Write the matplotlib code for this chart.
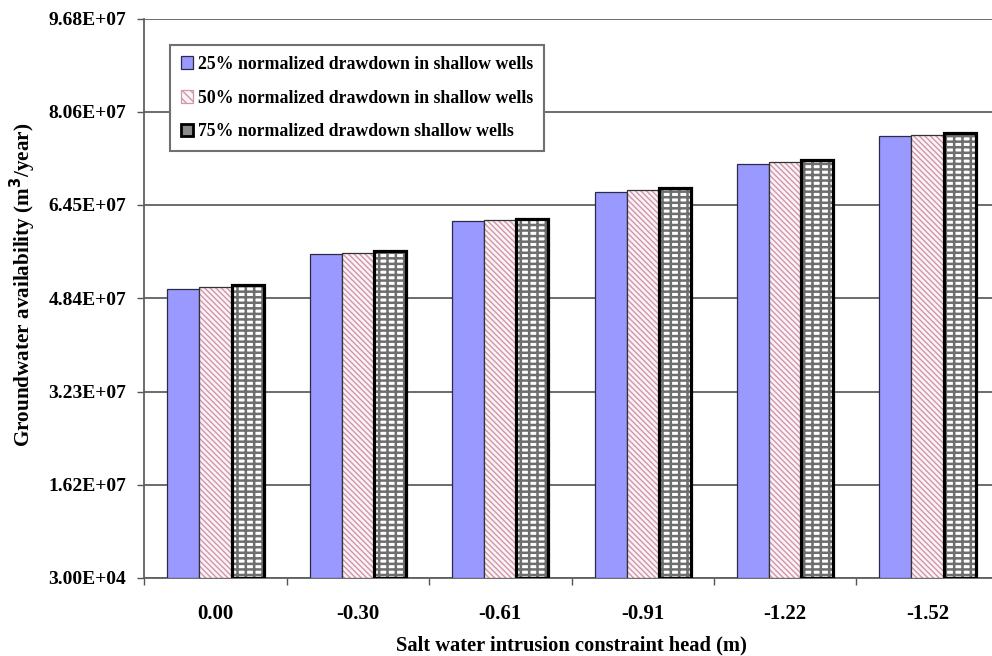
import numpy as np
import matplotlib.pyplot as plt
from matplotlib.patches import Patch

# Chart data
Categories = ["0.00", "-0.30", "-0.61", "-0.91", "-1.22", "-1.52"]
Series_labels = ["25% normalized drawdown in shallow wells",
                 "50% normalized drawdown in shallow wells",
                 "75% normalized drawdown shallow wells"]
DD25 = [5.00e7, 5.61e7, 6.17e7, 6.68e7, 7.17e7, 7.64e7]
DD50 = [5.04e7, 5.62e7, 6.19e7, 6.71e7, 7.20e7, 7.66e7]
DD75 = [5.07e7, 5.66e7, 6.22e7, 6.74e7, 7.23e7, 7.70e7]
Ytick_labels = ["3.00E+04", "1.62E+07", "3.23E+07", "4.84E+07",
                "6.45E+07", "8.06E+07", "9.68E+07"]
Ymin, Ymax = 3.0e4, 9.68e7

plt.rcParams["font.family"] = ["Liberation Serif", "DejaVu Serif"]
plt.rcParams["font.weight"] = "bold"
plt.rcParams["hatch.linewidth"] = 1.0

fig = plt.figure(figsize=(9.92, 6.56), dpi=100)
ax = fig.add_axes([144.3 / 992, 78 / 656, 854.4 / 992, 559.5 / 656])

x = np.arange(len(Categories))
w = 0.225

# 25% bars
ax.bar(x - w, DD25, w, color="#9999FF", edgecolor="#2b2b45", linewidth=0.9, zorder=3)
# 50% bars (hatch then outline)
ax.bar(x, DD50, w, color="#FBF3F6", edgecolor="#D096AD", hatch="\\\\\\\\\\\\", linewidth=0, zorder=3)
ax.bar(x, DD50, w, fill=False, edgecolor="#333333", linewidth=0.9, zorder=4)
# 75% bars (brick-like pattern then thick outline)
bricks = ax.bar(x + w, DD75, w, color="white", edgecolor="#6e6e6e", hatch="++-", linewidth=0, zorder=3)
for b in bricks:
    b.set_hatch_linewidth(1.8)
ax.bar(x + w, DD75, w, fill=False, edgecolor="black", linewidth=2.3, zorder=4)

# Axes styling
ax.set_xlim(-0.5, len(Categories) - 0.5)
ax.set_ylim(Ymin, Ymax)
ax.set_yticks(np.linspace(Ymin, Ymax, len(Ytick_labels)))
ax.set_yticklabels(Ytick_labels, fontsize=14)
ax.set_xticks(x)
ax.set_xticklabels(Categories, fontsize=15)
ax.set_xticks(np.arange(-0.5, len(Categories), 1), minor=True)
ax.tick_params(axis="x", which="major", length=0, pad=19)
ax.tick_params(axis="x", which="minor", length=5, width=1, color="#555555", direction="out")
ax.tick_params(axis="y", length=5, width=1, color="#555555", direction="out", pad=8)

ax.yaxis.grid(True, color="#606060", linewidth=1.3)
ax.set_axisbelow(True)
for side in ["top", "right"]:
    ax.spines[side].set_visible(False)
for side in ["left", "bottom"]:
    ax.spines[side].set_color("#606060")
    ax.spines[side].set_linewidth(1.3)

ax.set_xlabel("Salt water intrusion constraint head (m)", fontsize=14.8, fontweight="bold")
ax.xaxis.set_label_coords(0.5, -0.102)
ax.set_ylabel("Groundwater availability (m$^\\mathbf{3}$/year)", fontsize=15.2, fontweight="bold")
ax.yaxis.set_label_coords(-0.124, 0.524)

# Legend
Handles = [Patch(facecolor="#9999FF", edgecolor="#2b2b45", linewidth=0.9),
           Patch(facecolor="#FBF3F6", edgecolor="#D096AD", hatch="\\\\\\\\", linewidth=0.9),
           Patch(facecolor="#8a8a8a", edgecolor="black", linewidth=2)]
leg = fig.legend(Handles, Series_labels, loc="upper left",
                 bbox_to_anchor=(170 / 992, 1 - 45 / 656), borderaxespad=0,
                 fancybox=False, framealpha=1, edgecolor="#707070",
                 prop={"size": 12.8, "weight": "bold"},
                 handlelength=0.7, handleheight=0.7, handletextpad=0.3,
                 labelspacing=0.95, borderpad=0.6)
leg.get_frame().set_linewidth(1.5)

fig.savefig("out.png", dpi=100)
